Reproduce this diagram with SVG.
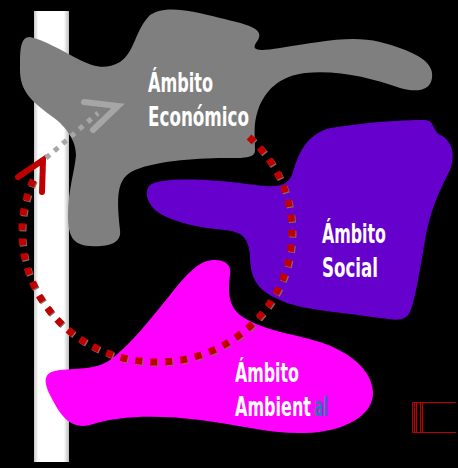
<svg xmlns="http://www.w3.org/2000/svg" width="458" height="468" viewBox="0 0 458 468">
<defs>
<linearGradient id="bar" x1="0" y1="0" x2="1" y2="0">
<stop offset="0" stop-color="#c8c8c8"/>
<stop offset="0.12" stop-color="#ffffff"/>
<stop offset="0.85" stop-color="#ffffff"/>
<stop offset="1" stop-color="#bdbdbd"/>
</linearGradient>
<style>
.lbl{font-family:"DejaVu Sans Condensed","DejaVu Sans",sans-serif;font-weight:bold;font-size:26px;fill:#ffffff}
.dots{fill:none;stroke:#C00000;stroke-width:7;stroke-dasharray:7 8}
.dotsh{fill:none;stroke:#8a6a6a;stroke-width:7;stroke-dasharray:7 8}
</style>
</defs>
<rect width="458" height="468" fill="#000"/>
<rect id="bar-rect" x="34" y="11" width="35" height="451" fill="url(#bar)"/>
<g id="economico">
<path fill="#7f7f7f" d="M 30,37 C 45,40 60,50 80,60 C 95,67 105,70 120,62 C 135,52 135,30 150,15 C 165,5 190,10 220,18 C 245,24 265,28 258,40 C 250,50 255,52 280,48 C 320,42 350,35 380,42 C 410,50 435,60 432,78 C 430,92 415,92 400,88 C 370,78 340,70 305,73 C 280,76 265,90 258,110 C 253,125 255,135 255,150 C 255,158 245,158 230,158 C 200,158 160,160 135,170 C 115,178 117,200 120,230 C 122,245 105,247 90,246 C 72,245 68,235 68,215 C 68,190 75,170 76,155 C 76,140 65,125 50,115 C 30,100 20,90 20,70 C 20,50 20,37 30,37 Z"/>
<text class="lbl" x="148" y="92" textLength="65" lengthAdjust="spacingAndGlyphs">Ámbito</text>
<text class="lbl" x="148" y="126" textLength="101" lengthAdjust="spacingAndGlyphs">Económico</text>
</g>
<g id="social">
<path fill="#6600cc" d="M 150,185 C 160,178 200,178 240,183 C 270,187 285,190 292,175 C 298,155 305,135 330,128 C 370,122 400,120 425,120 C 435,121 432,130 440,135 C 452,140 456,155 450,170 C 440,190 430,210 425,240 C 420,270 415,300 410,312 C 405,322 395,320 380,318 C 340,312 300,310 280,300 C 255,290 250,275 250,255 C 248,235 240,232 225,230 C 200,228 170,222 155,210 C 145,200 145,190 150,185 Z"/>
<text class="lbl" x="322" y="243" textLength="64" lengthAdjust="spacingAndGlyphs">Ámbito</text>
<text class="lbl" x="322" y="277" textLength="56" lengthAdjust="spacingAndGlyphs">Social</text>
</g>
<g id="ambiental">
<path fill="#ff00ff" d="M 215,260 C 225,260 232,265 230,275 C 228,290 228,305 240,315 C 260,330 290,333 320,342 C 350,352 372,370 373,392 C 374,415 345,432 305,433 C 270,434 240,425 200,420 C 160,415 120,415 90,425 C 70,430 60,415 50,395 C 42,378 45,372 60,370 C 80,368 95,370 110,360 C 130,345 150,320 170,295 C 190,270 200,260 215,260 Z"/>
<text class="lbl" x="235" y="382" textLength="64" lengthAdjust="spacingAndGlyphs">Ámbito</text>
<text class="lbl" transform="translate(235,416) scale(0.7,1)" textLength="108.5" lengthAdjust="spacingAndGlyphs">Ambient</text>
<text class="lbl" transform="translate(314,416) scale(0.7,1)" textLength="20" lengthAdjust="spacingAndGlyphs" style="fill:#2e75b6">al</text>
</g>
<g id="connectors">
<path class="dotsh" d="M 249,137 A 135,130 0 1 1 33.7,179" transform="translate(1,1)"/>
<path class="dots" d="M 249,137 A 135,130 0 1 1 33.7,179"/>
<polyline points="18,177 43,160 42,192" fill="none" stroke="#C00000" stroke-width="6" stroke-linecap="round"/>
<line x1="46" y1="158" x2="98" y2="113" stroke="#a6a6a6" stroke-width="5" stroke-dasharray="5 6"/>
<polyline points="84,102 118,106 93,130" fill="none" stroke="#a6a6a6" stroke-width="6" stroke-linecap="round"/>
</g>
<g id="corner" fill="none" stroke="#c00000" stroke-width="1">
<path d="M 456,402.5 H 412.5 V 432.5 H 456"/>
<path d="M 414.5,402.5 V 432.5 M 416.5,402.5 V 432.5 M 420.5,402.5 V 432.5 M 422.5,402.5 V 432.5"/>
</g>
</svg>
